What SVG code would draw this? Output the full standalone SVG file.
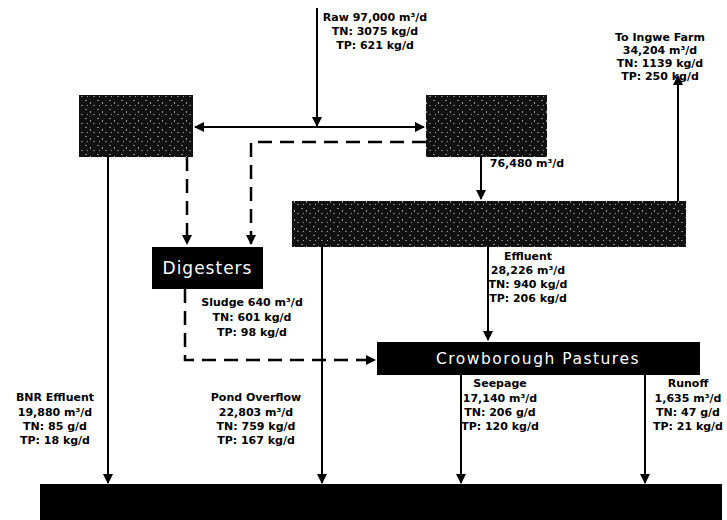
<svg xmlns="http://www.w3.org/2000/svg" width="727" height="520" viewBox="0 0 727 520">
<style>
.lbl{font-family:"DejaVu Sans","Liberation Sans",sans-serif;font-size:11px;font-weight:bold;fill:#000;text-anchor:middle}
.box{fill:#000}
.ntx{font-family:"DejaVu Sans","Liberation Sans",sans-serif;fill:#fff;text-anchor:middle}
.ln{stroke:#000;stroke-width:2;fill:none}
.dash{stroke:#000;stroke-width:2.5;fill:none;stroke-dasharray:14,8}
</style>
<defs>
<marker id="ah" markerWidth="10" markerHeight="10" refX="9" refY="5" orient="auto" markerUnits="userSpaceOnUse">
<path d="M0,0 L10,5 L0,10 z" fill="#000"/>
</marker>
<pattern id="noise" width="12" height="9" patternUnits="userSpaceOnUse">
<rect width="12" height="9" fill="#111"/>
<rect x="1" y="1" width="2" height="1" fill="#888"/>
<rect x="6" y="3" width="1" height="2" fill="#999"/>
<rect x="9" y="6" width="2" height="1" fill="#777"/>
<rect x="3" y="6" width="1" height="1" fill="#aaa"/>
</pattern>
</defs>
<g id="connectors">
<line class="ln" x1="317" y1="8" x2="317" y2="126" marker-end="url(#ah)"/>
<line class="ln" x1="317" y1="127" x2="195" y2="127" marker-end="url(#ah)"/>
<line class="ln" x1="317" y1="127" x2="424" y2="127" marker-end="url(#ah)"/>
<path class="dash" d="M426,142 H251 V244" marker-end="url(#ah)"/>
<path class="dash" d="M187,157 V244" marker-end="url(#ah)"/>
<line class="ln" x1="481" y1="157" x2="481" y2="199" marker-end="url(#ah)"/>
<line class="ln" x1="678" y1="201" x2="678" y2="76" marker-end="url(#ah)"/>
<line class="ln" x1="488" y1="247" x2="488" y2="340" marker-end="url(#ah)"/>
<path class="dash" d="M185,289 V360 H375" marker-end="url(#ah)"/>
<line class="ln" x1="108" y1="157" x2="108" y2="483" marker-end="url(#ah)"/>
<line class="ln" x1="322" y1="247" x2="322" y2="483" marker-end="url(#ah)"/>
<line class="ln" x1="461" y1="375" x2="461" y2="483" marker-end="url(#ah)"/>
<line class="ln" x1="645" y1="375" x2="645" y2="483" marker-end="url(#ah)"/>
</g>
<g id="node-left"><rect x="79" y="95" width="114" height="62" fill="url(#noise)"/></g>
<g id="node-right"><rect x="426" y="95" width="121" height="62" fill="url(#noise)"/></g>
<g id="node-middle"><rect x="292" y="201" width="394" height="46" fill="url(#noise)"/></g>
<g id="node-digesters"><rect class="box" x="152" y="247" width="111" height="42"/><text class="ntx" x="207.5" y="274" font-size="17" letter-spacing="1">Digesters</text></g>
<g id="node-crowborough"><rect class="box" x="377" y="342" width="323" height="33"/><text class="ntx" x="538" y="364" font-size="15.5" letter-spacing="1.5">Crowborough Pastures</text></g>
<g id="node-bottom"><rect class="box" x="40" y="484" width="682" height="36"/></g>
<g id="labels">
<text class="lbl" x="375" y="21">Raw 97,000 m³/d</text>
<text class="lbl" x="375" y="35">TN: 3075 kg/d</text>
<text class="lbl" x="375" y="49">TP: 621 kg/d</text>
<text class="lbl" x="660" y="41">To Ingwe Farm</text>
<text class="lbl" x="660" y="54">34,204 m³/d</text>
<text class="lbl" x="660" y="67">TN: 1139 kg/d</text>
<text class="lbl" x="660" y="80">TP: 250 kg/d</text>
<text class="lbl" x="527" y="167">76,480 m³/d</text>
<text class="lbl" x="528" y="260">Effluent</text>
<text class="lbl" x="528" y="274">28,226 m³/d</text>
<text class="lbl" x="528" y="288">TN: 940 kg/d</text>
<text class="lbl" x="528" y="302">TP: 206 kg/d</text>
<text class="lbl" x="252" y="306">Sludge 640 m³/d</text>
<text class="lbl" x="252" y="321">TN: 601 kg/d</text>
<text class="lbl" x="252" y="336">TP: 98 kg/d</text>
<text class="lbl" x="55" y="401">BNR Effluent</text>
<text class="lbl" x="55" y="416">19,880 m³/d</text>
<text class="lbl" x="55" y="430">TN: 85 g/d</text>
<text class="lbl" x="55" y="444">TP: 18 kg/d</text>
<text class="lbl" x="256" y="401">Pond Overflow</text>
<text class="lbl" x="256" y="416">22,803 m³/d</text>
<text class="lbl" x="256" y="430">TN: 759 kg/d</text>
<text class="lbl" x="256" y="444">TP: 167 kg/d</text>
<text class="lbl" x="500" y="387">Seepage</text>
<text class="lbl" x="500" y="402">17,140 m³/d</text>
<text class="lbl" x="500" y="416">TN: 206 g/d</text>
<text class="lbl" x="500" y="430">TP: 120 kg/d</text>
<text class="lbl" x="688" y="387">Runoff</text>
<text class="lbl" x="688" y="402">1,635 m³/d</text>
<text class="lbl" x="688" y="416">TN: 47 g/d</text>
<text class="lbl" x="688" y="430">TP: 21 kg/d</text>
</g>
</svg>
